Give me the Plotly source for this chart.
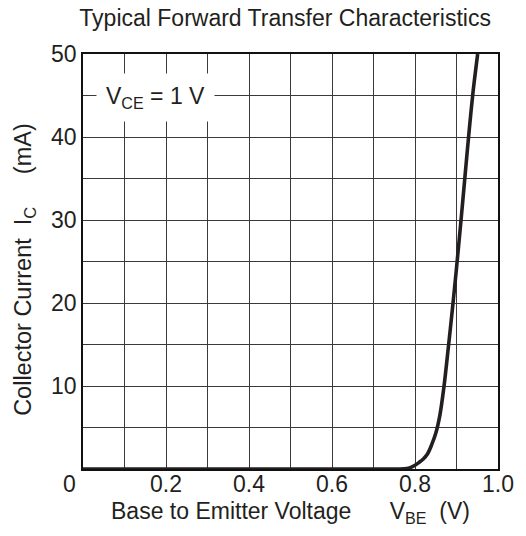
import plotly.graph_objects as go

# Data
vbe = [0, 0.1, 0.2, 0.3, 0.4, 0.5, 0.6, 0.7, 0.76, 0.78, 0.79, 0.80, 0.81, 0.82,
       0.83, 0.84, 0.85, 0.86, 0.87, 0.88, 0.89, 0.90, 0.91, 0.92, 0.93, 0.94, 0.951]
ic = [0, 0, 0, 0, 0, 0, 0, 0, 0, 0.05, 0.2, 0.45, 0.8, 1.2,
      1.8, 2.9, 4.3, 6.5, 10.0, 14.5, 19.2, 24.2, 29.5, 35.0, 40.5, 45.5, 50.0]

x_tickvals = [0.2, 0.4, 0.6, 0.8, 1.0]
x_ticktext = ["0.2", "0.4", "0.6", "0.8", "1.0"]
y_tickvals = [10, 20, 30, 40, 50]
y_ticktext = ["10", "20", "30", "40", "50"]

FONT = "Liberation Sans, Arial, Helvetica, sans-serif"
INK = "#231f20"
GRID = "#3a3a3a"

fig = go.Figure()
fig.add_trace(go.Scatter(
    x=vbe, y=ic, mode="lines",
    line=dict(color=INK, width=3.6, shape="spline", smoothing=0.8),
    cliponaxis=False, hoverinfo="skip", showlegend=False,
))

axis_common = dict(
    showline=True, linecolor="#111", linewidth=1.6, mirror=True,
    showgrid=True, gridcolor=GRID, gridwidth=1.2,
    zeroline=False, ticks="",
    tickfont=dict(family=FONT, size=23, color=INK),
)

fig.update_xaxes(
    range=[0, 1.0], tickvals=x_tickvals, ticktext=x_ticktext,
    minor=dict(dtick=0.1, tick0=0, showgrid=True, gridcolor=GRID, gridwidth=1.2),
    ticklabelstandoff=-6,
    **axis_common,
)
fig.update_yaxes(
    range=[0, 50], tickvals=y_tickvals, ticktext=y_ticktext,
    minor=dict(dtick=5, tick0=0, showgrid=True, gridcolor=GRID, gridwidth=1.2),
    ticklabelstandoff=0,
    **axis_common,
)

nb = "\u00a0"
annotations = [
    dict(text="V<sub>CE</sub> = 1 V", x=0.174, y=44.8, xref="x", yref="y",
         showarrow=False, bgcolor="white", borderpad=9,
         font=dict(family=FONT, size=23, color=INK)),
    dict(text="0", x=-0.0325, y=-0.035, xref="paper", yref="paper",
         showarrow=False, xanchor="center", yanchor="middle",
         font=dict(family=FONT, size=23, color=INK)),
    dict(text="Base to Emitter Voltage" + nb * 6 + "V<sub>BE</sub>" + nb * 2 + "(V)",
         x=0.501, y=-0.106, xref="paper", yref="paper", showarrow=False,
         xanchor="center", yanchor="middle",
         font=dict(family=FONT, size=23, color=INK)),
    dict(text="Collector Current" + nb * 2 + "I<sub>C</sub>" + nb * 5 + "(mA)",
         x=-0.14, y=0.482, xref="paper", yref="paper", showarrow=False,
         xanchor="center", yanchor="middle", textangle=-90,
         font=dict(family=FONT, size=23.5, color=INK)),
]

fig.update_layout(
    width=526, height=536,
    margin=dict(l=83, r=28, t=54, b=67),
    paper_bgcolor="white", plot_bgcolor="white",
    title=dict(text="Typical Forward Transfer Characteristics",
               x=0.487, xref="paper", xanchor="center",
               y=1 - 18 / 536, yref="container", yanchor="middle",
               font=dict(family=FONT, size=23, color=INK)),
    annotations=annotations,
    showlegend=False,
)

fig.write_html("out.html")
